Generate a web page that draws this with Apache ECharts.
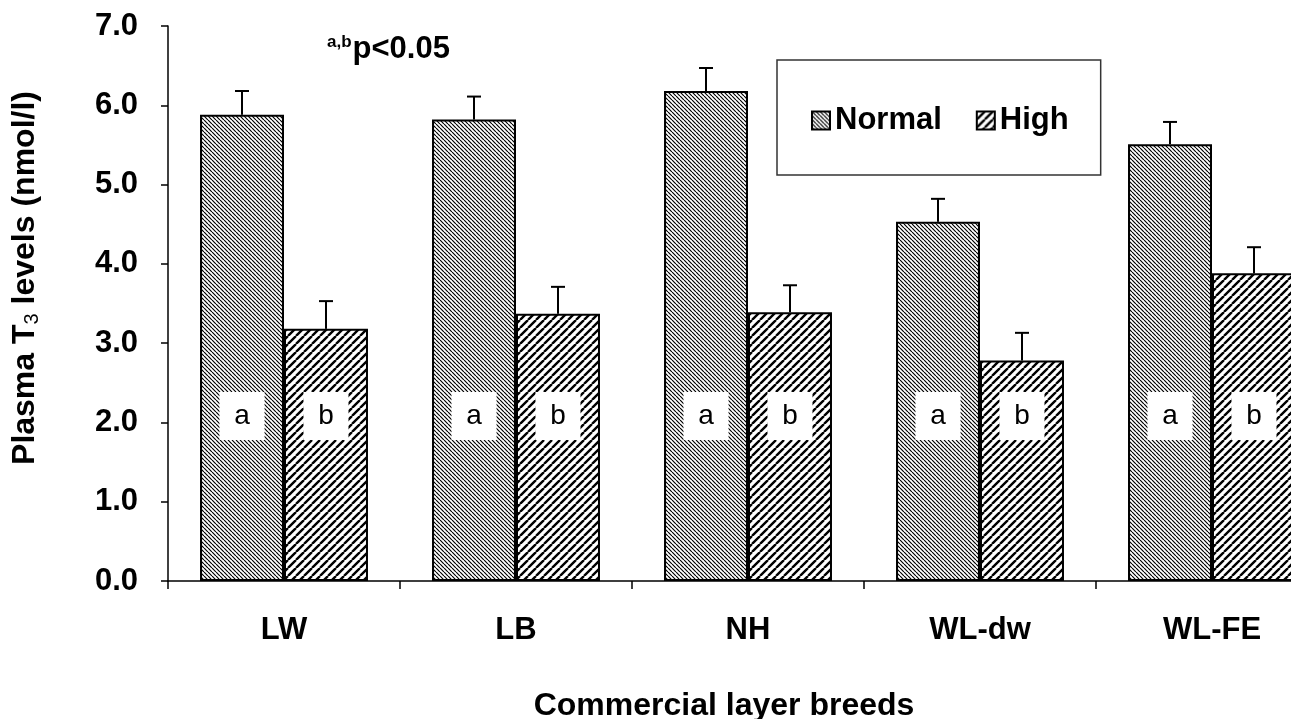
<!DOCTYPE html>
<html>
<head>
<meta charset="utf-8">
<script src="https://cdn.jsdelivr.net/npm/echarts@6/dist/echarts.min.js"></script>
<style>
html,body{margin:0;padding:0;background:#fff;overflow:hidden;width:1291px;height:719px;}
#chart{width:1340px;height:719px;}
</style>
</head>
<body>
<div id="chart"></div>
<script>
// ---- data ----
const categories = ['LW', 'LB', 'NH', 'WL-dw', 'WL-FE'];
const normalValues = [5.88, 5.82, 6.18, 4.53, 5.51];
const normalErrors = [0.30, 0.29, 0.29, 0.29, 0.28];
const highValues = [3.18, 3.37, 3.39, 2.78, 3.88];
const highErrors = [0.35, 0.34, 0.34, 0.35, 0.33];
const normalLetters = ['a', 'a', 'a', 'a', 'a'];
const highLetters = ['b', 'b', 'b', 'b', 'b'];
const letterLevel = 2.08;
const yTicks = [0, 1, 2, 3, 4, 5, 6, 7];

// ---- styles ----
const FONT = '"Liberation Sans", Arial, sans-serif';
const BAR_FRAC = 0.362;

function hatch(size, lw, dir) {
  const c = document.createElement('canvas');
  c.width = size; c.height = size;
  const g = c.getContext('2d');
  g.fillStyle = '#fff';
  g.fillRect(0, 0, size, size);
  g.strokeStyle = '#000';
  g.lineWidth = lw;
  g.beginPath();
  for (let k = -1; k <= 1; k++) {
    if (dir === 'back') {
      g.moveTo(k * size, 0); g.lineTo(k * size + size, size);
    } else {
      g.moveTo(k * size, size); g.lineTo(k * size + size, 0);
    }
  }
  g.stroke();
  return c;
}
const normalPattern = { image: hatch(4, 1.2, 'back'), repeat: 'repeat' };
const highPattern = { image: hatch(8, 2.4, 'fwd'), repeat: 'repeat' };

function errorSeries(values, errors, sign) {
  return {
    type: 'custom',
    silent: true,
    z: 5,
    data: values.map((v, i) => [i, v, errors[i]]),
    renderItem: function (params, api) {
      const band = api.size([1, 0])[0];
      const off = sign * band * BAR_FRAC / 2;
      const idx = api.value(0);
      const base = api.coord([idx, api.value(1)]);
      const top = api.coord([idx, api.value(1) + api.value(2)]);
      const x = base[0] + off;
      const cap = 7;
      return {
        type: 'group',
        children: [
          { type: 'line', shape: { x1: x, y1: base[1], x2: x, y2: top[1] }, style: { stroke: '#000', lineWidth: 2 } },
          { type: 'line', shape: { x1: x - cap, y1: top[1], x2: x + cap, y2: top[1] }, style: { stroke: '#000', lineWidth: 2 } }
        ]
      };
    }
  };
}

function letterSeries(letters, sign) {
  return {
    type: 'custom',
    silent: true,
    z: 6,
    data: letters.map((t, i) => [i, letterLevel]),
    renderItem: function (params, api) {
      const band = api.size([1, 0])[0];
      const off = sign * band * BAR_FRAC / 2;
      const p = api.coord([api.value(0), api.value(1)]);
      const x = p[0] + off, y = p[1];
      const w = 45, h = 48;
      return {
        type: 'group',
        children: [
          { type: 'rect', shape: { x: x - w / 2, y: y - h / 2, width: w, height: h }, style: { fill: '#fff' } },
          { type: 'text', style: { text: letters[params.dataIndex], x: x, y: y, align: 'center', verticalAlign: 'middle', font: '28px ' + FONT, fill: '#000' } }
        ]
      };
    }
  };
}

const chart = echarts.init(document.getElementById('chart'), null, { renderer: 'canvas' });
chart.setOption({
  animation: false,
  backgroundColor: '#fff',
  grid: { left: 168, top: 26, bottom: 138, right: 12, containLabel: false, outerBoundsMode: 'none' },
  legend: {
    data: ['Normal', 'High'],
    left: 777, top: 60,
    orient: 'horizontal',
    padding: [45, 32, 39, 34],
    itemGap: 34,
    itemWidth: 18, itemHeight: 18,
    borderColor: '#333', borderWidth: 1.5,
    icon: 'rect',
    textStyle: { fontFamily: FONT, fontWeight: 'bold', fontSize: 31, color: '#000' }
  },
  xAxis: {
    type: 'category',
    data: categories,
    axisLine: { lineStyle: { color: '#000', width: 1.5 } },
    axisTick: { show: true, interval: 0, length: 8, lineStyle: { color: '#000', width: 1.5 } },
    axisLabel: { interval: 0, margin: 34, fontFamily: FONT, fontWeight: 'bold', fontSize: 31, color: '#000' },
    splitLine: { show: false }
  },
  yAxis: {
    type: 'value',
    min: yTicks[0], max: yTicks[yTicks.length - 1], interval: 1,
    axisLine: { show: true, lineStyle: { color: '#000', width: 1.5 } },
    axisTick: { show: true, length: 7, lineStyle: { color: '#000', width: 1.5 } },
    axisLabel: { margin: 30, formatter: v => v.toFixed(1), fontFamily: FONT, fontWeight: 'bold', fontSize: 31, color: '#000' },
    splitLine: { show: false }
  },
  series: [
    {
      name: 'Normal', type: 'bar', data: normalValues,
      barWidth: (BAR_FRAC * 100) + '%', barGap: '0%',
      itemStyle: { color: normalPattern, borderColor: '#000', borderWidth: 2 }
    },
    {
      name: 'High', type: 'bar', data: highValues,
      barWidth: (BAR_FRAC * 100) + '%', barGap: '0%',
      itemStyle: { color: highPattern, borderColor: '#000', borderWidth: 2 }
    },
    errorSeries(normalValues, normalErrors, -1),
    errorSeries(highValues, highErrors, 1),
    letterSeries(normalLetters, -1),
    letterSeries(highLetters, 1)
  ],
  graphic: [
    {
      type: 'text', left: 327, top: 34,
      style: {
        text: '{s|a,b}{m|p<0.05}',
        rich: {
          s: { fontFamily: FONT, fontWeight: 'bold', fontSize: 17, color: '#000', verticalAlign: 'top', padding: [0, 1, 14, 0] },
          m: { fontFamily: FONT, fontWeight: 'bold', fontSize: 31, color: '#000' }
        }
      }
    },
    {
      type: 'text', x: 724, y: 706,
      style: { text: 'Commercial layer breeds', align: 'center', verticalAlign: 'middle', font: 'bold 32px ' + FONT, fill: '#000' }
    },
    {
      type: 'text', x: 25, y: 278, rotation: Math.PI / 2,
      style: {
        text: '{m|Plasma T}{sub|3}{m| levels (nmol/l)}',
        align: 'center', verticalAlign: 'middle',
        rich: {
          m: { fontFamily: FONT, fontWeight: 'bold', fontSize: 32, color: '#000' },
          sub: { fontFamily: FONT, fontWeight: 'normal', fontSize: 20, color: '#000', padding: [15, 0, 0, 0] }
        }
      }
    }
  ]
});
</script>
</body>
</html>
